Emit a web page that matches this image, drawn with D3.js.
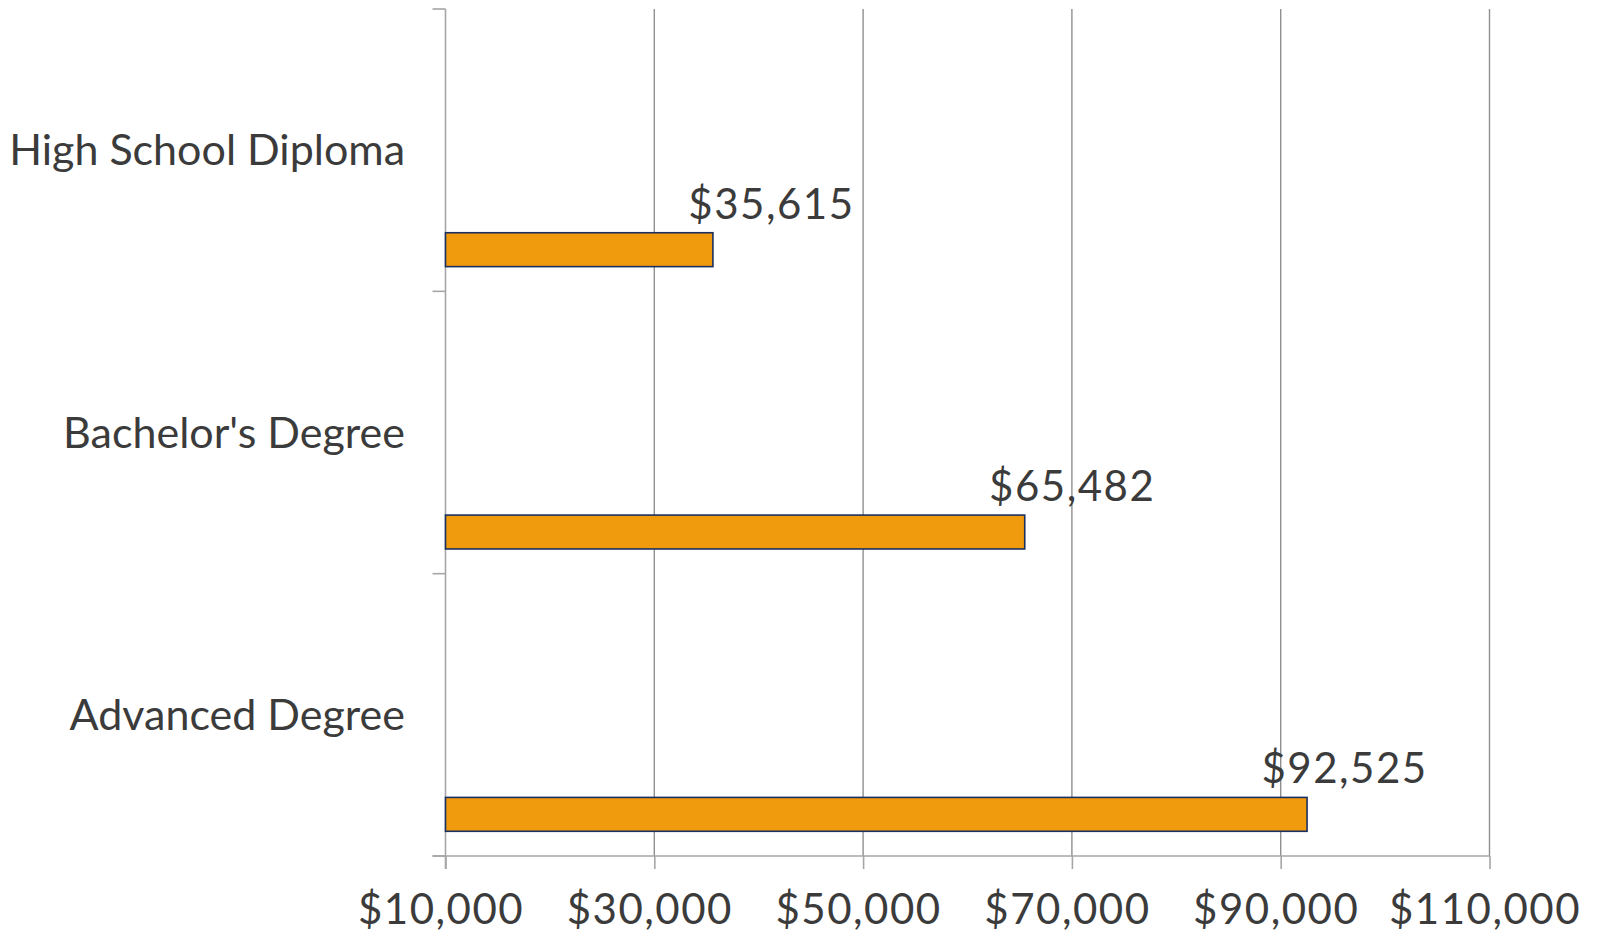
<!DOCTYPE html>
<html>
<head>
<meta charset="utf-8">
<script src="https://cdn.jsdelivr.net/npm/d3@7"></script>
<style>
  html, body { margin: 0; padding: 0; background: #ffffff; }
  svg { display: block; }
  text { font-family: Lato, "Open Sans", sans-serif; fill: #3b3b3b; }
  .num { font-size: 42px; letter-spacing: 1.5px; }
</style>
</head>
<body>
<svg id="chart" width="1601" height="933"></svg>
<script>
// Median annual earnings by education level
const categories = ["High School Diploma", "Bachelor's Degree", "Advanced Degree"];
const earnings = [35615, 65482, 92525];
const xTicks = [10000, 30000, 50000, 70000, 90000, 110000];

const svg = d3.select("#chart");
const plot = { left: 445.5, right: 1489.5, top: 9, bottom: 856 };

const x = d3.scaleLinear().domain([10000, 110000]).range([plot.left, plot.right]);
const y = d3.scaleBand().domain(categories).range([plot.top, plot.bottom]).paddingInner(0).paddingOuter(0);
const bw = y.bandwidth();

const money = d3.format("$,.0f");

// vertical gridlines
svg.append("g")
  .selectAll("line")
  .data(xTicks.slice(1))
  .join("line")
  .attr("x1", d => x(d)).attr("x2", d => x(d))
  .attr("y1", plot.top).attr("y2", plot.bottom)
  .attr("stroke", "#8f8f8f").attr("stroke-width", 1.4);

// bottom axis
const xAxis = svg.append("g")
  .attr("transform", `translate(0,${plot.bottom})`)
  .call(d3.axisBottom(x).tickValues(xTicks).tickFormat(money).tickSize(13).tickSizeOuter(0));
xAxis.select(".domain").remove();
xAxis.selectAll(".tick line").attr("stroke", "#a6a6a6").attr("stroke-width", 1.6);
xAxis.selectAll(".tick text")
  .attr("class", "num")
  .attr("y", 68).attr("dy", 0)
  .attr("x", -5)
  .attr("font-size", null)
  .style("fill", "#3b3b3b");
xAxis.attr("font-family", null).attr("font-size", null);
svg.append("line")
  .attr("x1", plot.left - 13).attr("x2", plot.right)
  .attr("y1", plot.bottom).attr("y2", plot.bottom)
  .attr("stroke", "#a6a6a6").attr("stroke-width", 1.6);

// left axis with category boundary ticks
const yAxisG = svg.append("g");
yAxisG.append("line")
  .attr("x1", plot.left).attr("x2", plot.left)
  .attr("y1", plot.top).attr("y2", plot.bottom + 13)
  .attr("stroke", "#a6a6a6").attr("stroke-width", 1.6);
const bounds = categories.map(c => y(c)).concat([plot.bottom]);
yAxisG.selectAll("line.bt")
  .data(bounds)
  .join("line")
  .attr("class", "bt")
  .attr("x1", plot.left - 13).attr("x2", plot.left)
  .attr("y1", d => d).attr("y2", d => d)
  .attr("stroke", "#a6a6a6").attr("stroke-width", 1.6);

// category labels
svg.append("g")
  .selectAll("text")
  .data(categories)
  .join("text")
  .attr("x", 405)
  .attr("y", d => y(d) + bw / 2)
  .attr("dy", "0.35em")
  .attr("text-anchor", "end")
  .style("font-size", "43px")
  .text(d => d);

// bars
const rows = categories.map((c, i) => ({ cat: c, value: earnings[i] }));
const barTop = 0.7925, barH = 0.12;
svg.append("g")
  .selectAll("rect")
  .data(rows)
  .join("rect")
  .attr("x", x(10000))
  .attr("y", d => y(d.cat) + bw * barTop)
  .attr("width", d => x(d.value) - x(10000))
  .attr("height", bw * barH)
  .attr("fill", "#f09a0e")
  .attr("stroke", "#1a3060")
  .attr("stroke-width", 1.6);

// value labels above bar ends
const labelX = d3.scaleLinear().domain(x.domain()).range([plot.left + 68, plot.right + 31]);
svg.append("g")
  .selectAll("text")
  .data(rows)
  .join("text")
  .attr("class", "num")
  .attr("x", d => labelX(d.value))
  .attr("y", d => y(d.cat) + bw * barTop - 14)
  .attr("text-anchor", "middle")
  .text(d => money(d.value));
</script>
</body>
</html>
